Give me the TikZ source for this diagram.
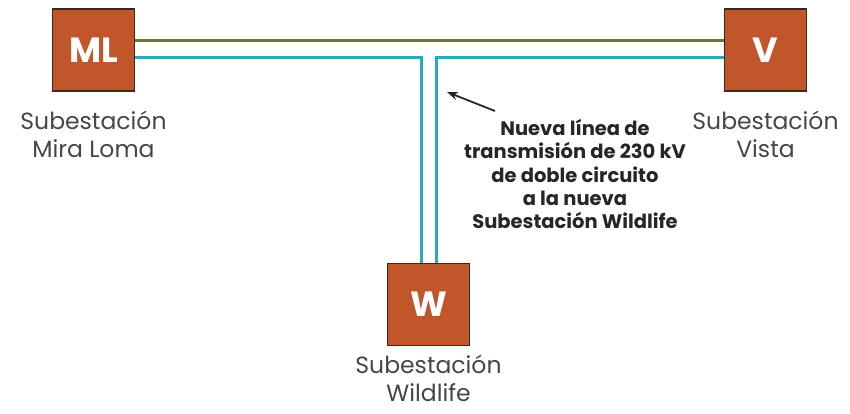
\documentclass[tikz,border=0pt]{standalone}
\usepackage{fontspec}
\setmainfont{Poppins}
\usepackage{xcolor}
\usetikzlibrary{arrows,arrows.meta,positioning}

\definecolor{substfill}{RGB}{192,86,42}
\definecolor{substedge}{RGB}{58,40,30}
\definecolor{oldline}{RGB}{107,120,48}
\definecolor{newline}{RGB}{42,168,192}
\definecolor{labelgray}{RGB}{70,70,70}

\begin{document}
\begin{tikzpicture}[x=1pt, y=-1pt,
    subst/.style={draw=substedge, line width=1.5pt, fill=substfill, minimum size=82pt, inner sep=0pt, text=white, font=\bfseries\fontsize{35}{35}\selectfont},
    place/.style={align=center, text=labelgray, font=\fontsize{23.5}{28}\selectfont},
    note/.style={align=center, text=black!85, font=\bfseries\fontsize{19.5}{23.3}\selectfont},
    oldln/.style={draw=oldline, line width=3pt},
    newln/.style={draw=newline, line width=3pt}]
    \useasboundingbox (0,0) rectangle (850,413);
    % substations
    \node[subst] (ml) at (93.5,50) {ML};
    \node[subst] (v) at (765.5,50) {V};
    \node[subst] (w) at (428.5,304.5) {W};
    \node[place, below=16pt of ml] (mlname) {Subestación\\Mira Loma};
    \node[place, below=16pt of v] (vname) {Subestación\\Vista};
    \node[place, below=7pt of w, inner sep=1pt] (wname) {Subestación\\Wildlife};
    % lines
    \draw[oldln] ([yshift=10pt]ml.east) -- ([yshift=10pt]v.west);
    \draw[newln] ([yshift=-7pt]ml.east) -| ([xshift=-7pt]w.north);
    \draw[newln] ([yshift=-7pt]v.west) -| ([xshift=8pt]w.north);
    % note
    \node[note] (txt) at (575,174) {Nueva línea de\\transmisión de 230 kV\\de doble circuito\\a la nueva\\Subestación Wildlife};
    \coordinate (tail) at (495,111);
    \coordinate (tip) at (447,92);
    \draw[-{Stealth[length=11pt,width=8pt]}, line width=1.8pt, black!85] (tail) -- (tip);
\end{tikzpicture}
\end{document}
